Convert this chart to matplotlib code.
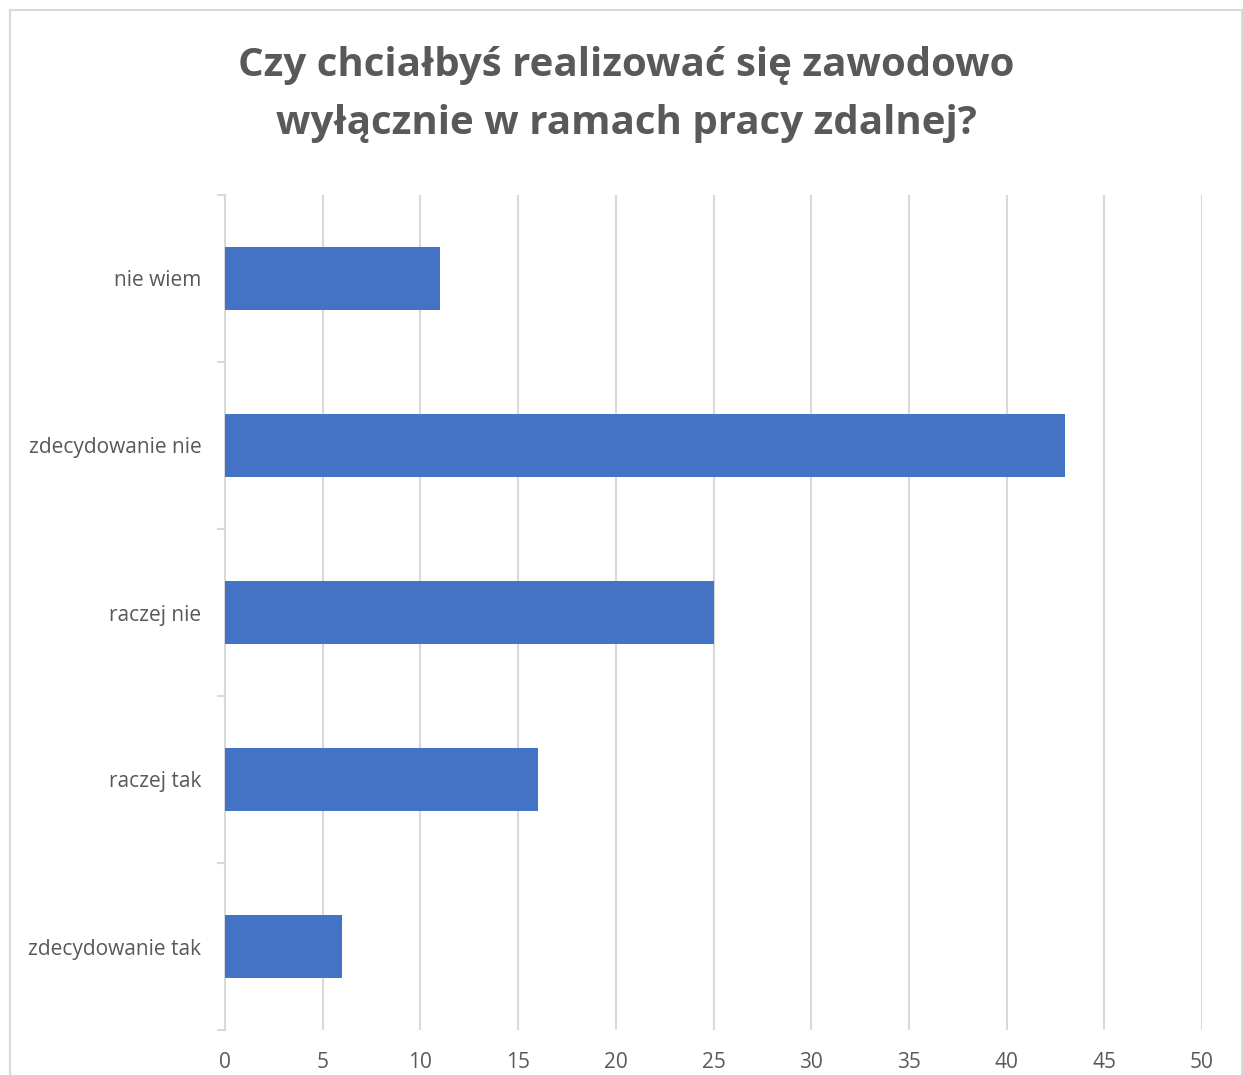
import matplotlib
matplotlib.use("Agg")
import matplotlib.pyplot as plt
from matplotlib.patches import Rectangle

categories = ["zdecydowanie tak", "raczej tak", "raczej nie", "zdecydowanie nie", "nie wiem"]
values = [6, 16, 25, 43, 11]
x_ticks = [0, 5, 10, 15, 20, 25, 30, 35, 40, 45, 50]
title = "Czy chciałbyś realizować się zawodowo\nwyłącznie w ramach pracy zdalnej?"

W, H = 1243, 1075
fig = plt.figure(figsize=(W / 100, H / 100), dpi=100)
fig.patch.set_facecolor("white")

font = ["Open Sans", "DejaVu Sans"]
text_color = "#595959"
grid_color = "#d9d9d9"

# chart frame
fig.add_artist(Rectangle((10 / W, -0.05), (1242 - 10) / W, 1.05 - 10 / H,
                         transform=fig.transFigure, fill=False,
                         edgecolor="#d9d9d9", linewidth=1.5))

left, right = 225 / W, 1202 / W
top, bottom = 1 - 195 / H, 1 - 1030 / H
ax = fig.add_axes([left, bottom, right - left, top - bottom])

ypos = list(range(len(categories)))
ax.barh(ypos, values, height=0.375, color="#4472C4", zorder=3)

ax.set_xlim(0, 50)
ax.set_ylim(-0.5, len(categories) - 0.5)
ax.set_xticks(x_ticks)
ax.set_xticklabels([str(t) for t in x_ticks], fontsize=15, color=text_color, family=font)
ax.tick_params(axis="x", length=0, pad=16)
ax.grid(axis="x", color=grid_color, linewidth=1.5, zorder=0)

ax.set_yticks([i - 0.5 for i in range(len(categories) + 1)])
ax.set_yticklabels([])
ax.set_yticks(ypos, minor=True)
ax.set_yticklabels(categories, minor=True, fontsize=15, color=text_color, family=font)
ax.tick_params(axis="y", which="major", length=6, color=grid_color, width=1.5)
ax.tick_params(axis="y", which="minor", length=0, pad=17)

for s in ["top", "right", "bottom"]:
    ax.spines[s].set_visible(False)
ax.spines["left"].set_color(grid_color)
ax.spines["left"].set_linewidth(1.5)

fig.text(626 / W, 1 - 94.5 / H, title, ha="center", va="center", fontsize=29,
         fontweight="bold", color=text_color, family=font, linespacing=1.63)

fig.savefig("out.png", dpi=100, facecolor="white")
